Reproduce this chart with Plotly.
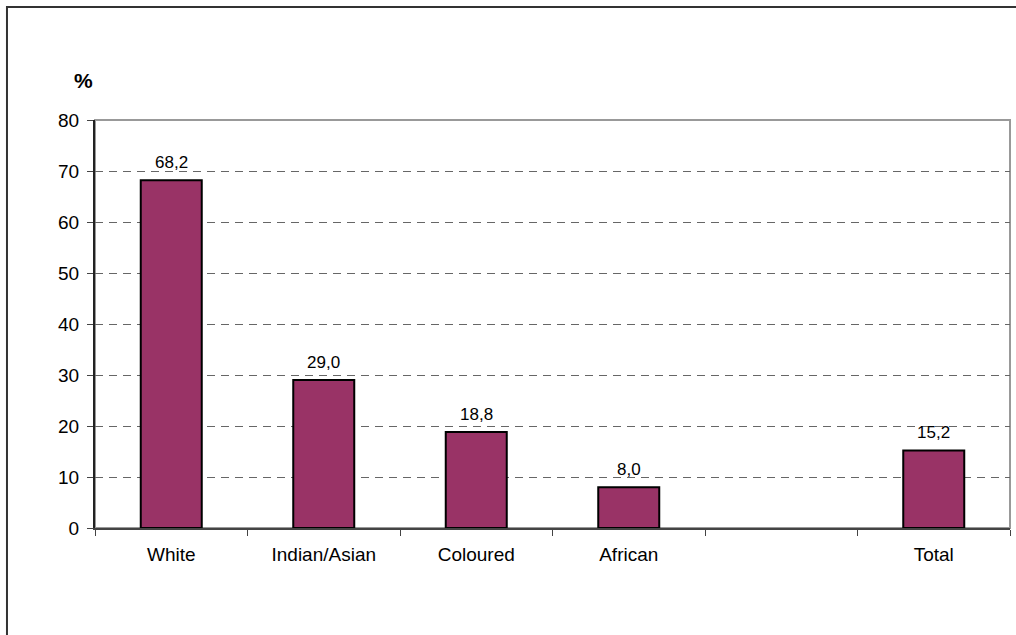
import plotly.graph_objects as go

categories = ["White", "Indian/Asian", "Coloured", "African", " ", "Total"]
values = [68.2, 29.0, 18.8, 8.0, None, 15.2]
y_ticks = [0, 10, 20, 30, 40, 50, 60, 70, 80]

labels = [("" if v is None else f"{v:.1f}".replace(".", ",")) for v in values]

fig = go.Figure(go.Bar(
    x=categories, y=values, width=0.4,
    marker=dict(color="#993366", line=dict(color="#000000", width=2)),
))

annotations = [
    dict(x=c, y=v, text=t, xref="x", yref="y", showarrow=False,
         xanchor="center", yanchor="bottom", yshift=6,
         font=dict(family="Liberation Sans, Arial", size=17, color="#000000"))
    for c, v, t in zip(categories, values, labels) if v is not None
]
annotations.append(
    dict(text="<b>%</b>", xref="paper", yref="paper", x=-0.0126, y=1.098,
         xanchor="center", yanchor="middle", showarrow=False,
         font=dict(size=21, family="Liberation Sans, Arial", color="#000000"))
)

fig.update_layout(
    width=1016, height=635,
    margin=dict(l=95, r=6, t=120, b=107),
    paper_bgcolor="white", plot_bgcolor="white",
    showlegend=False,
    font=dict(family="Liberation Sans, Arial", size=19, color="#000000"),
    shapes=[
        dict(type="rect", xref="paper", yref="paper", x0=0, x1=1, y0=0, y1=1,
             line=dict(color="#999999", width=2), layer="below"),
        dict(type="rect", xref="paper", yref="paper", x0=-0.0962, x1=1.011, y0=-0.29, y1=1.277,
             line=dict(color="#333333", width=2), layer="below"),
    ],
    annotations=annotations,
)

fig.update_xaxes(
    type="category", categoryorder="array", categoryarray=categories,
    showline=True, linecolor="#444444", linewidth=2,
    ticks="outside", tickson="boundaries", ticklen=6, tickcolor="#444444", tickwidth=1,
    showgrid=False, tickfont=dict(size=19), ticklabelstandoff=8,
)
fig.update_yaxes(
    range=[0, 80], tickvals=y_ticks,
    showline=True, linecolor="#222222", linewidth=2,
    ticks="outside", ticklen=6, tickcolor="#444444", tickwidth=1,
    showgrid=True, gridcolor="#666666", gridwidth=1, griddash="8px,6px",
    zeroline=False, tickfont=dict(size=19), ticklabelstandoff=4,
)

fig.write_html("out.html", config={"displayModeBar": False},
               post_script="document.body.style.margin='0px';")
